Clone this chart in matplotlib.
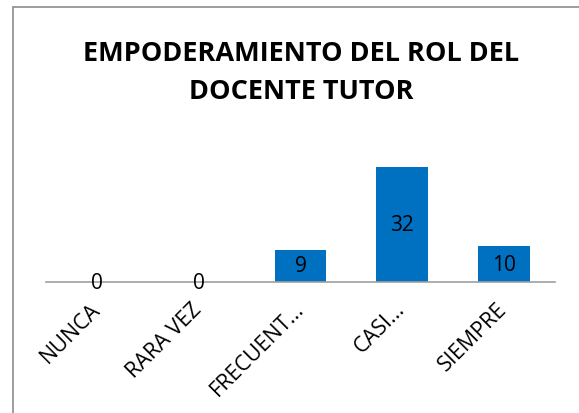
import matplotlib.pyplot as plt
from matplotlib.patches import Rectangle

categories = ["NUNCA", "RARA VEZ", "FRECUENT...", "CASI...", "SIEMPRE"]
values = [0, 0, 9, 32, 10]
title = "EMPODERAMIENTO DEL ROL DEL\nDOCENTE TUTOR"

plt.rcParams['font.family'] = ['Open Sans', 'DejaVu Sans']

fig = plt.figure(figsize=(5.79, 4.14), dpi=100)
ax = fig.add_axes([0.0795, 0.3164, 0.879, 0.304])

bars = ax.bar(range(len(categories)), values, width=0.51, color="#0070C0")
ax.bar_label(bars, label_type="center", fontsize=15, color="black")

ax.set_xlim(-0.5, len(categories) - 0.5)
ax.set_ylim(0, 35)
ax.set_yticks([])
ax.set_xticks(range(len(categories)))
ax.set_xticklabels(categories, rotation=45, ha="right", va="center",
                   rotation_mode="anchor", fontsize=15.5)
ax.tick_params(axis="x", length=0, pad=17)
for s in ["top", "right", "left"]:
    ax.spines[s].set_visible(False)
ax.spines["bottom"].set_color("#a0a0a0")
ax.spines["bottom"].set_linewidth(1.2)

fig.text(0.52, 0.824, title, ha="center", va="center", fontsize=19.5,
         fontweight="bold", linespacing=1.6)

# chart border (partially cut off in the original)
fig.patches.append(Rectangle((13 / 579, -0.1), 1.0, 1.1 - 8 / 414,
                             transform=fig.transFigure, fill=False,
                             edgecolor="#8c8c8c", linewidth=1.2))

fig.savefig("out.png", dpi=100)
